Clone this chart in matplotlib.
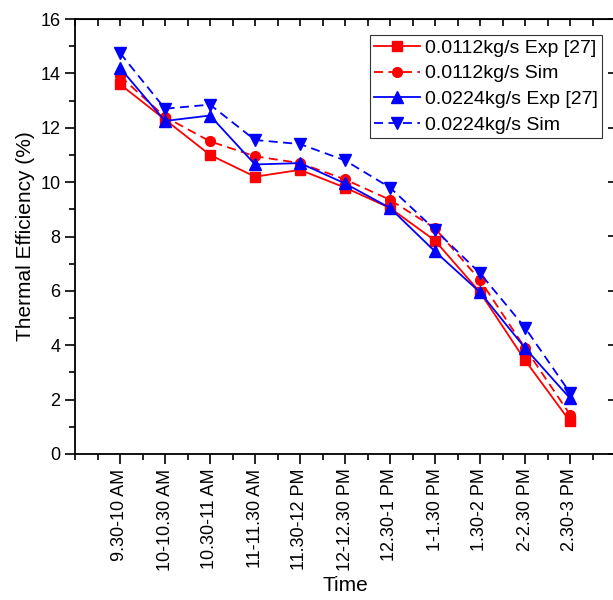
import matplotlib.pyplot as plt
from matplotlib.ticker import MultipleLocator

plt.rcParams['font.family'] = ['Liberation Sans', 'DejaVu Sans']

times = ['9.30-10 AM', '10-10.30 AM', '10.30-11 AM', '11-11.30 AM', '11.30-12 PM',
         '12-12.30 PM', '12.30-1 PM', '1-1.30 PM', '1.30-2 PM', '2-2.30 PM', '2.30-3 PM']
exp_0112 = [13.6, 12.3, 11.0, 10.2, 10.45, 9.8, 9.05, 7.85, 5.95, 3.45, 1.2]
sim_0112 = [13.9, 12.4, 11.5, 10.95, 10.7, 10.1, 9.35, 8.3, 6.4, 3.9, 1.45]
exp_0224 = [14.2, 12.25, 12.45, 10.65, 10.7, 9.95, 9.05, 7.45, 5.95, 3.9, 2.05]
sim_0224 = [14.75, 12.7, 12.85, 11.55, 11.4, 10.8, 9.8, 8.25, 6.65, 4.65, 2.25]

x = list(range(1, len(times) + 1))

fig = plt.figure(figsize=(6.13, 6.0), dpi=100)
ax = fig.add_axes([75/613, 146/600, 540/613, 435/600])

ax.plot(x, exp_0112, color='red', marker='s', ms=6.5, lw=1.3, label='0.0112kg/s Exp [27]')
ax.plot(x, sim_0112, color='red', marker='o', ms=7, lw=1.3, ls=(0, (5, 3)), label='0.0112kg/s Sim')
ax.plot(x, exp_0224, color='blue', marker='^', ms=8, lw=1.3, label='0.0224kg/s Exp [27]')
ax.plot(x, sim_0224, color='blue', marker='v', ms=8, lw=1.3, ls=(0, (5, 3)), label='0.0224kg/s Sim')

ax.set_xlim(0, 12)
ax.set_ylim(0, 16)
ax.set_xticks(x)
ax.set_xticklabels(times, rotation=90, fontsize=13)
ax.xaxis.set_minor_locator(MultipleLocator(0.5))
ax.yaxis.set_major_locator(MultipleLocator(2))
ax.yaxis.set_minor_locator(MultipleLocator(1))
ax.tick_params(axis='both', which='major', direction='out', length=7, width=1.2, labelsize=13)
ax.tick_params(axis='both', which='minor', direction='out', length=4, width=1.2)
for s in ax.spines.values():
    s.set_linewidth(1.3)

top = ax.secondary_xaxis('top')
top.set_xticks(x)
top.xaxis.set_minor_locator(MultipleLocator(0.5))
top.tick_params(which='both', direction='in', length=5, width=1.2, labeltop=False)
right = ax.secondary_yaxis('right')
right.yaxis.set_major_locator(MultipleLocator(2))
right.tick_params(which='major', direction='in', length=5, width=1.2, labelright=False)

ax.set_xlabel('Time', fontsize=15, labelpad=3)
ax.set_ylabel('Thermal Efficiency (%)', fontsize=15, labelpad=4)

leg = ax.legend(loc='upper right', fontsize=14, frameon=True, fancybox=False,
                edgecolor='black', handlelength=2.4, borderpad=0.2, labelspacing=0.42,
                handletextpad=0.25, borderaxespad=0, bbox_to_anchor=(0.976, 0.963))
leg.get_frame().set_linewidth(0.8)

fig.savefig('out.png', dpi=100)
